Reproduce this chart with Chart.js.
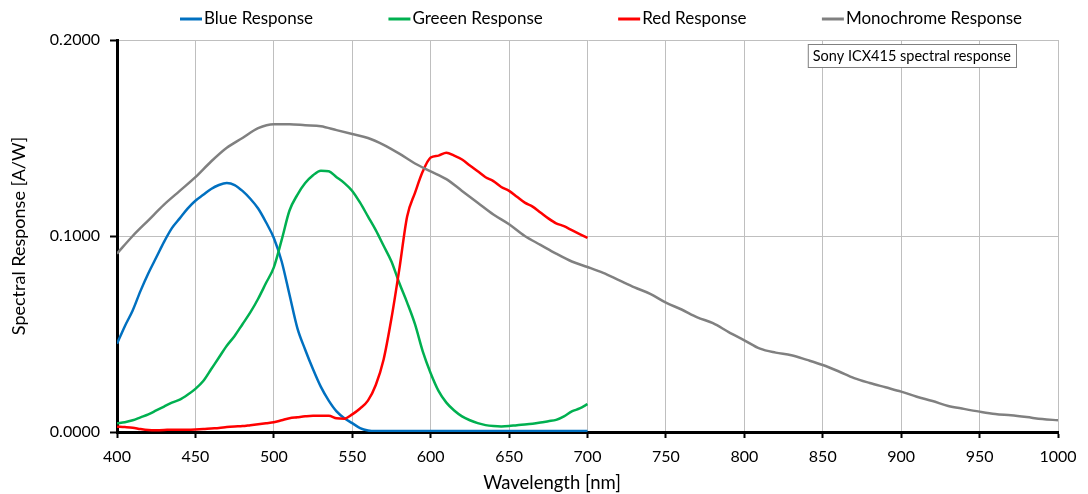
<!DOCTYPE html>
<html>
<head>
<meta charset="utf-8">
<script src="https://cdn.jsdelivr.net/npm/chart.js@4/dist/chart.umd.min.js"></script>
<style>
  html, body { margin: 0; padding: 0; background: #fff; }
  #wrap { width: 1088px; height: 494px; }
</style>
</head>
<body>
<div id="wrap"><canvas id="chart" width="1088" height="494"></canvas></div>
<script>
// wavelengths for the colour channels (5 nm steps)
const rgbWavelengths = [400,405,410,415,420,425,430,435,440,445,450,455,460,465,470,475,480,485,490,495,
  500,505,510,515,520,525,530,535,540,545,550,555,560,565,570,575,580,585,590,595,
  600,605,610,615,620,625,630,635,640,645,650,655,660,665,670,675,680,685,690,695,700];

const blueResponse = [0.045,0.054,0.062,0.072,0.081,0.089,0.097,0.104,0.109,0.114,0.118,0.121,0.124,0.126,0.127,0.126,0.123,0.119,0.114,0.107,
  0.099,0.087,0.070,0.053,0.042,0.032,0.023,0.016,0.0105,0.007,0.0045,0.002,0.0008,0.0005,0.0005,0.0005,0.0005,0.0005,0.0005,0.0005,
  0.0005,0.0005,0.0005,0.0005,0.0005,0.0005,0.0005,0.0005,0.0005,0.0005,0.0005,0.0005,0.0005,0.0005,0.0005,0.0005,0.0005,0.0005,0.0005,0.0005,0.0005];

const greenResponse = [0.0045,0.005,0.006,0.0075,0.009,0.011,0.013,0.015,0.0165,0.019,0.022,0.026,0.032,0.038,0.044,0.049,0.055,0.061,0.068,0.076,
  0.084,0.098,0.113,0.121,0.127,0.131,0.1333,0.133,0.130,0.127,0.123,0.117,0.110,0.103,0.095,0.087,0.076,0.066,0.055,0.041,
  0.030,0.021,0.015,0.011,0.008,0.006,0.0045,0.0035,0.003,0.0028,0.003,0.0035,0.0038,0.0042,0.0048,0.0055,0.0062,0.008,0.0105,0.012,0.0142];

const redResponse = [0.0027,0.0025,0.0022,0.0015,0.001,0.0009,0.001,0.0012,0.0012,0.0012,0.0013,0.0015,0.0018,0.002,0.0025,0.0028,0.003,0.0035,0.004,0.0045,
  0.005,0.006,0.007,0.0075,0.008,0.0083,0.0083,0.0083,0.007,0.0068,0.009,0.012,0.016,0.024,0.037,0.058,0.083,0.110,0.122,0.133,
  0.140,0.141,0.1425,0.141,0.139,0.136,0.133,0.130,0.128,0.125,0.123,0.120,0.117,0.115,0.112,0.109,0.1065,0.105,0.103,0.101,0.099];

// monochrome sensor, 10 nm steps
const monoWavelengths = [400,410,420,430,440,450,460,470,480,490,500,510,520,530,540,550,560,570,580,590,
  600,610,620,630,640,650,660,670,680,690,700,710,720,730,740,750,760,770,780,790,
  800,810,820,830,840,850,860,870,880,890,900,910,920,930,940,950,960,970,980,990,1000];

const monoResponse = [0.091,0.100,0.108,0.116,0.123,0.130,0.138,0.145,0.150,0.155,0.157,0.157,0.1565,0.156,0.154,0.152,0.150,0.1465,0.142,0.137,
  0.133,0.129,0.123,0.117,0.111,0.106,0.100,0.0955,0.091,0.087,0.0842,0.0812,0.0775,0.0738,0.0705,0.066,0.0625,0.0585,0.0555,0.051,
  0.0468,0.0425,0.0405,0.0392,0.0368,0.0342,0.031,0.0275,0.025,0.0228,0.0206,0.018,0.0158,0.0133,0.0118,0.0104,0.0092,0.0085,0.0076,0.0066,0.006];

const seriesNames = ["Blue Response", "Greeen Response", "Red Response", "Monochrome Response"];
const seriesColors = ["#0070C0", "#00B050", "#FF0000", "#808080"];
const xTicks = [400,450,500,550,600,650,700,750,800,850,900,950,1000];
const yTicks = [0, 0.1, 0.2];
const noteText = "Sony ICX415 spectral response";
const xTitle = "Wavelength [nm]";

const FONT = "Lato, 'Open Sans', 'Liberation Sans', sans-serif";

function toPoints(xs, ys) {
  return xs.map((x, i) => ({ x: x, y: ys[i] }));
}

const seriesData = [
  toPoints(rgbWavelengths, blueResponse),
  toPoints(rgbWavelengths, greenResponse),
  toPoints(rgbWavelengths, redResponse),
  toPoints(monoWavelengths, monoResponse),
];

// Excel-style legend: short line + label, spread across the top
const topLegend = {
  id: "topLegend",
  afterDraw(chart) {
    const ctx = chart.ctx;
    ctx.save();
    ctx.font = "17px " + FONT;
    const lineW = 22, gap = 2;
    const widths = seriesNames.map((n) => lineW + gap + ctx.measureText(n).width);
    const left = 180, right = 1022;
    const spacing = (right - left - widths.reduce((a, b) => a + b, 0)) / (widths.length - 1);
    let x = left;
    const y = 19;
    seriesNames.forEach((name, i) => {
      ctx.strokeStyle = seriesColors[i];
      ctx.lineWidth = 3;
      ctx.beginPath();
      ctx.moveTo(x, y);
      ctx.lineTo(x + lineW, y);
      ctx.stroke();
      ctx.fillStyle = "#000";
      ctx.textBaseline = "middle";
      ctx.textAlign = "left";
      ctx.fillText(name, x + lineW + gap, y);
      x += widths[i] + spacing;
    });
    ctx.restore();
  },
};

// boxed note top right, and the x title (Excel puts it left of the plot centre)
const extras = {
  id: "extras",
  afterDraw(chart) {
    const ctx = chart.ctx;
    const area = chart.chartArea;
    ctx.save();
    ctx.font = "14.5px " + FONT;
    const w = ctx.measureText(noteText).width + 10;
    const h = 23;
    const x = area.right - 42 - w;
    const y = area.top + 4;
    ctx.fillStyle = "#fff";
    ctx.fillRect(x, y, w, h);
    ctx.strokeStyle = "#808080";
    ctx.lineWidth = 1;
    ctx.strokeRect(x + 0.5, y + 0.5, w, h);
    ctx.fillStyle = "#000";
    ctx.textBaseline = "middle";
    ctx.fillText(noteText, x + 5, y + h / 2 + 1);

    ctx.font = "18.5px " + FONT;
    ctx.textAlign = "center";
    ctx.fillText(xTitle, 552, 483);
    ctx.restore();
  },
};

new Chart(document.getElementById("chart"), {
  type: "line",
  data: {
    datasets: seriesData.map((pts, i) => ({
      label: seriesNames[i],
      data: pts,
      borderColor: seriesColors[i],
      backgroundColor: seriesColors[i],
      borderWidth: 2.5,
      pointRadius: 0,
      cubicInterpolationMode: "monotone",
      order: 3 - i,
    })),
  },
  options: {
    responsive: false,
    animation: false,
    events: [],
    layout: { padding: { top: 40, right: 30, left: 0, bottom: 0 } },
    plugins: {
      legend: { display: false },
      tooltip: { enabled: false },
    },
    scales: {
      x: {
        type: "linear",
        min: 400,
        max: 1000,
        afterBuildTicks: (scale) => { scale.ticks = xTicks.map((v) => ({ value: v })); },
        afterFit: (scale) => { scale.height = 62; },
        border: { color: "#000", width: 3 },
        grid: { color: "#bfbfbf", lineWidth: 1, tickColor: "#000", tickLength: 6, tickWidth: 2 },
        ticks: {
          color: "#000",
          font: { family: FONT, size: 16 },
          padding: 9,
          maxRotation: 0,
          callback: (v) => String(v),
        },
      },
      y: {
        min: 0,
        max: 0.2,
        afterBuildTicks: (scale) => { scale.ticks = yTicks.map((v) => ({ value: v })); },
        afterFit: (scale) => { scale.width = 117; },
        border: { color: "#000", width: 3 },
        grid: { color: "#bfbfbf", lineWidth: 1, tickColor: "#000", tickLength: 7, tickWidth: 2 },
        ticks: {
          color: "#000",
          font: { family: FONT, size: 16 },
          padding: 10,
          callback: (v) => Number(v).toFixed(4),
        },
        title: {
          display: true,
          text: "Spectral Response [A/W]",
          color: "#000",
          font: { family: FONT, size: 18 },
          padding: { top: 8, bottom: 6 },
        },
      },
    },
  },
  plugins: [topLegend, extras],
});
</script>
</body>
</html>
